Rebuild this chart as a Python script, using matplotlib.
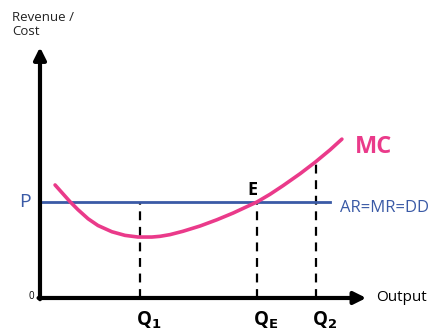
import numpy as np
import matplotlib.pyplot as plt

# MC curve points (output, cost)
mc_x = [0.52, 0.86, 1.03, 1.31, 1.66, 2.00, 2.48, 2.93, 3.38, 3.86, 4.14, 4.48,
        4.93, 5.52, 6.10, 6.66, 7.14, 7.48, 7.93, 8.38, 8.97, 9.48, 10.00, 10.41]
mc_y = [4.71, 4.25, 4.02, 3.68, 3.30, 3.02, 2.76, 2.61, 2.54, 2.54, 2.57, 2.64,
        2.78, 3.00, 3.26, 3.54, 3.81, 4.00, 4.32, 4.68, 5.18, 5.65, 6.17, 6.62]

price = 4.0
q_pos = [3.45, 7.48, 9.52]
q_labels = ['Q$_\\mathbf{1}$', 'Q$_\\mathbf{E}$', 'Q$_\\mathbf{2}$']
q_tops = [price, price, 5.68]

pink = '#ea3a8a'
blue = '#3a5aa6'

plt.rcParams['font.family'] = ['Open Sans', 'DejaVu Sans']

fig = plt.figure(figsize=(4.36, 3.32), dpi=100)
ax = fig.add_axes([0, 0, 1, 1])
ax.set_xlim(-1.379, 13.655)
ax.set_ylim(-1.417, 12.417)
ax.axis('off')

# axes with arrows
ax.annotate('', xy=(11.25, 0), xytext=(-0.05, 0),
            arrowprops=dict(arrowstyle='-|>', color='black', lw=3, mutation_scale=18,
                            shrinkA=0, shrinkB=0))
ax.annotate('', xy=(0, 10.45), xytext=(0, -0.05),
            arrowprops=dict(arrowstyle='-|>', color='black', lw=3, mutation_scale=18,
                            shrinkA=0, shrinkB=0))

# dashed drop lines
for q, top in zip(q_pos, q_tops):
    ax.plot([q, q], [0, top], color='black', lw=1.6, ls=(0, (4, 3)))

# price line
ax.plot([0, 10.0], [price, price], color=blue, lw=2)

# MC curve
ax.plot(mc_x, mc_y, color=pink, lw=2.6, solid_capstyle='round', solid_joinstyle='round')

# labels
ax.text(-0.52, price, 'P', color=blue, fontsize=14, ha='center', va='center')
ax.text(10.35, price - 0.25, 'AR=MR=DD', color=blue, fontsize=12, ha='left', va='center')
ax.text(10.85, 6.3, 'MC', color=pink, fontsize=17, fontweight='bold', ha='left', va='center')
ax.text(7.34, 4.5, 'E', color='black', fontsize=13, fontweight='bold', ha='center', va='center')
ax.text(-0.2, 0.05, '0', color='black', fontsize=7, ha='right', va='center')
ax.text(11.6, 0, 'Output', color='black', fontsize=11, ha='left', va='center')
ax.text(-0.95, 11.95, 'Revenue /\nCost', color='#222222', fontsize=9.5, ha='left', va='top',
        linespacing=1.05)
for q, lab in zip(q_pos, q_labels):
    ax.text(q + 0.3, -0.95, lab, color='black', fontsize=13.5, fontweight='bold',
            ha='center', va='center')

fig.savefig('out.png', dpi=100)
